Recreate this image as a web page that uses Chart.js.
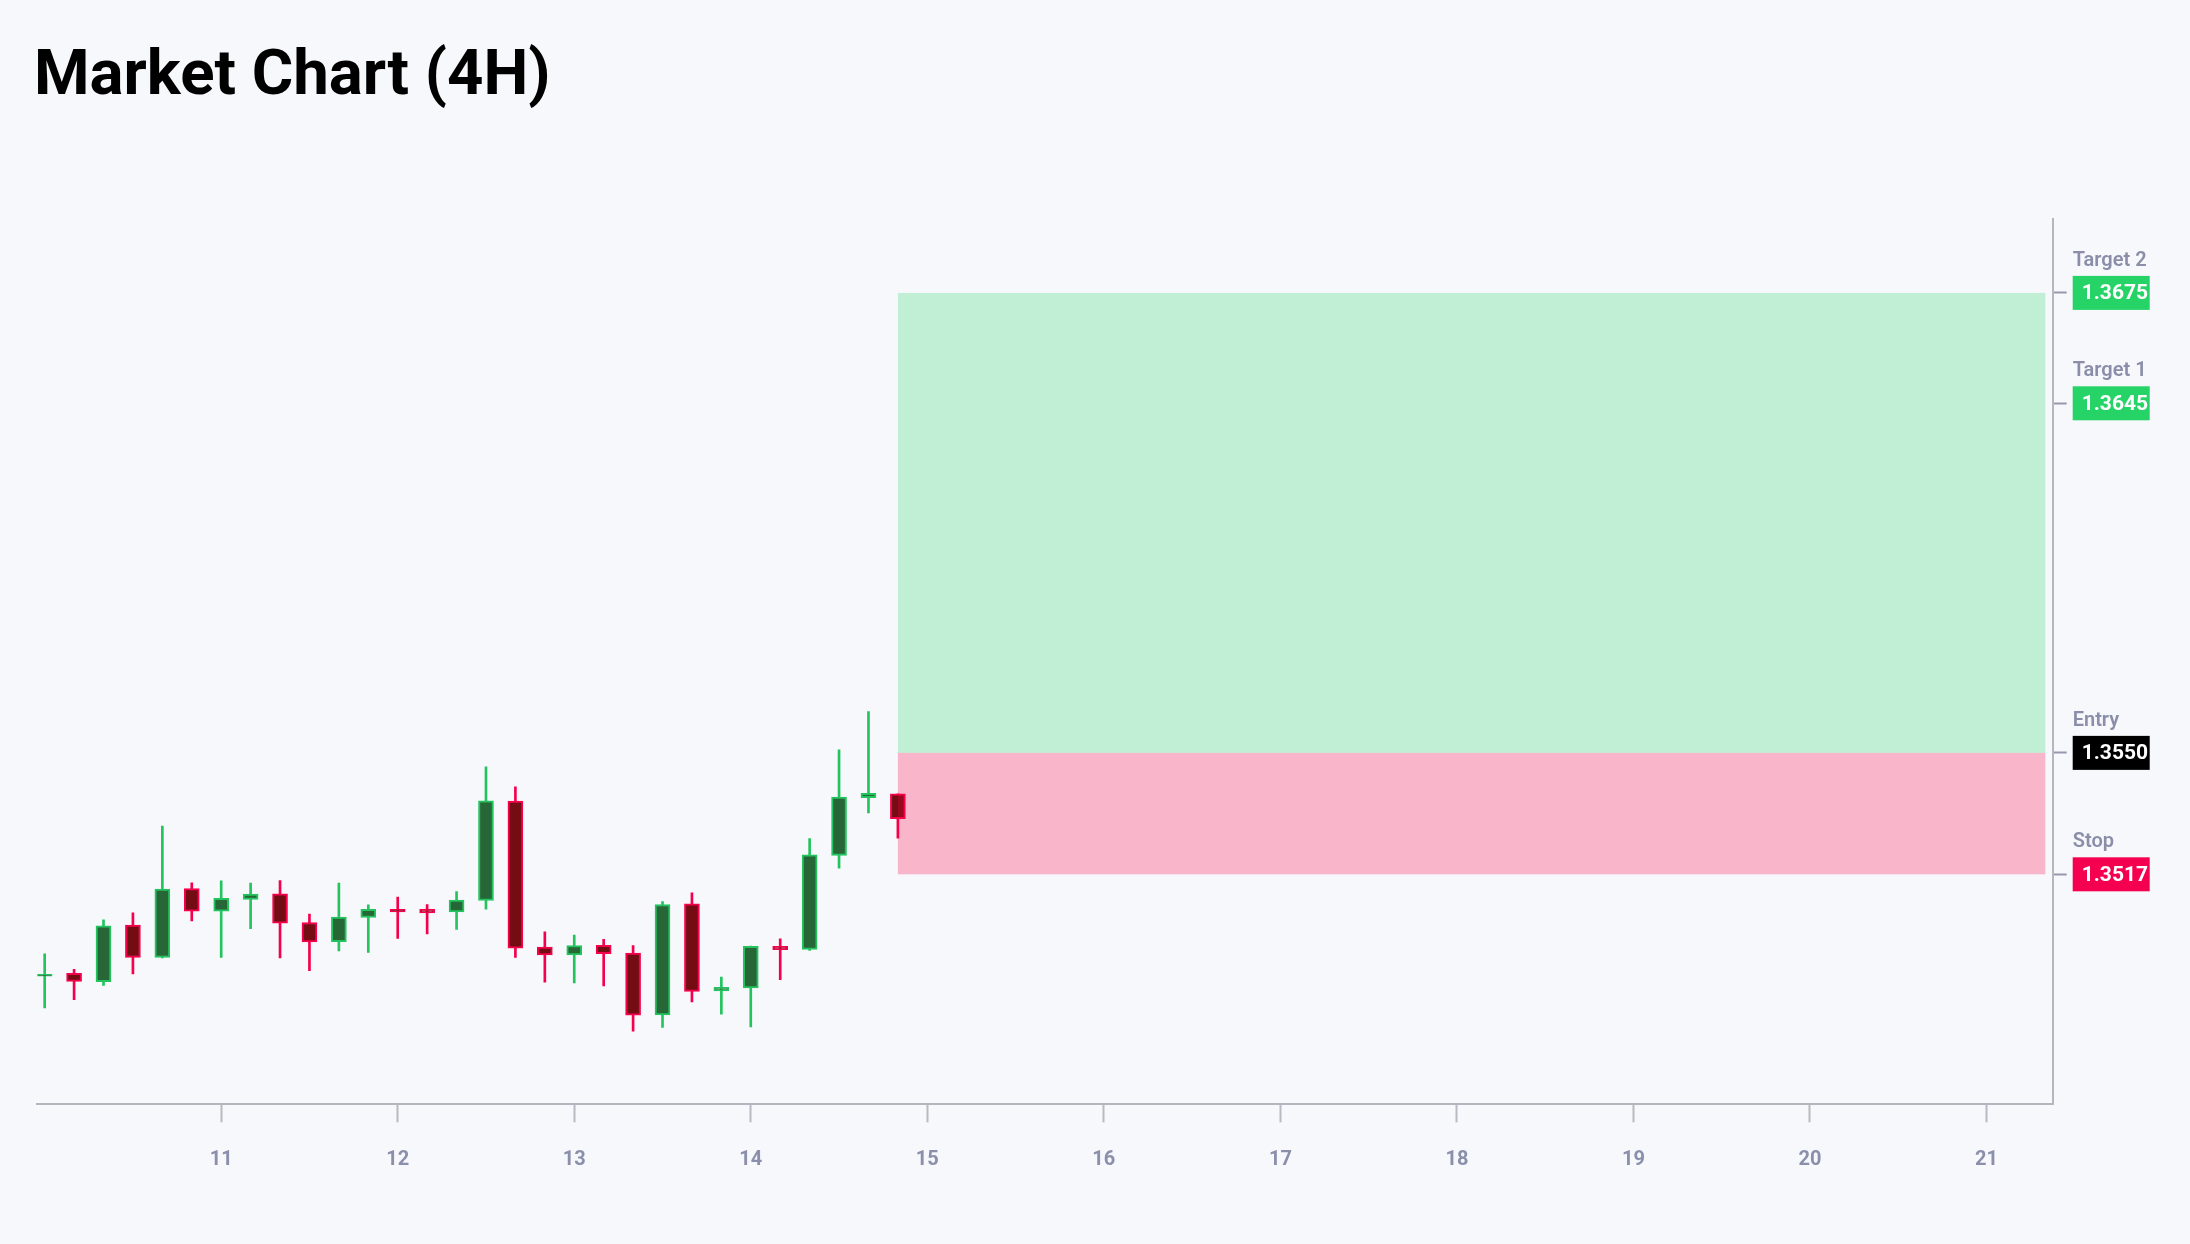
<!DOCTYPE html>
<html>
<head>
<meta charset="utf-8">
<script src="https://cdn.jsdelivr.net/npm/chart.js@4.4.1/dist/chart.umd.min.js"></script>
<style>
  html, body { margin:0; padding:0; background:#f7f8fc; overflow:hidden; }
  #wrap { position:relative; width:2190px; height:1244px; }
  h1 {
    position:absolute; left:34px; top:41px; margin:0;
    font-family:Roboto, sans-serif; font-weight:700; font-size:63.5px; line-height:63px;
    color:#000;
  }
  canvas { position:absolute; left:0; top:0; }
</style>
</head>
<body>
<div id="wrap">
  <h1>Market Chart (4H)</h1>
  <canvas id="chart"></canvas>
</div>
<script>
// candle times: day of month + 4H slot
const days = [10, 11, 12, 13, 14];
const hours = [0, 4, 8, 12, 16, 20];

const open  = [1.34893,1.34901,1.34878,1.35032,1.34944,1.35131,1.35070,1.35102,1.35117,1.35039,
               1.34987,1.35053,1.35075,1.35075,1.35068,1.35099,1.35369,1.34972,1.34951,1.34977,
               1.34956,1.34788,1.35090,1.34853,1.34861,1.34974,1.34966,1.35221,1.35378,1.35389];
const high  = [1.34954,1.34912,1.35046,1.35065,1.35301,1.35147,1.35152,1.35146,1.35153,1.35062,
               1.35146,1.35087,1.35108,1.35088,1.35123,1.35462,1.35408,1.35014,1.35005,1.34993,
               1.34976,1.35096,1.35120,1.34891,1.34975,1.34995,1.35267,1.35508,1.35612,1.35389];
const low   = [1.34807,1.34829,1.34868,1.34899,1.34943,1.35043,1.34944,1.35022,1.34943,1.34908,
               1.34962,1.34958,1.34996,1.35008,1.35020,1.35075,1.34944,1.34877,1.34875,1.34867,
               1.34744,1.34754,1.34823,1.34790,1.34755,1.34884,1.34963,1.35187,1.35337,1.35268];
const close = [1.34898,1.34879,1.35030,1.34944,1.35130,1.35070,1.35105,1.35116,1.35037,1.34986,
               1.35054,1.35075,1.35068,1.35065,1.35100,1.35370,1.34969,1.34951,1.34976,1.34954,
               1.34787,1.35088,1.34852,1.34863,1.34974,1.34965,1.35223,1.35380,1.35390,1.35321];

// trade levels on the right axis
const levelNames  = ["Target 2", "Target 1", "Entry", "Stop"];
const levelValues = [1.3675, 1.3645, 1.3550, 1.3517];
const levelColors = ["#25d366", "#25d366", "#000000", "#f50050"];

const dayTicks = [11, 12, 13, 14, 15, 16, 17, 18, 19, 20, 21];
const zoneEnd = 21 + 8 / 24;

const times = [];
days.forEach(d => hours.forEach(h => times.push(d + h / 24)));

const UP = "#23c45e", UP_FILL = "#266637";
const DOWN = "#f5004c", DOWN_FILL = "#740c13";

const isUp = i => close[i] >= open[i];

const bodies = times.map((t, i) => ({ x: t, y: [open[i], close[i]] }));
const wicks  = times.map((t, i) => ({ x: t, y: [low[i], high[i]] }));

// risk / reward boxes, drawn over the candles
const zonesPlugin = {
  id: "zones",
  afterDatasetsDraw(chart) {
    const { ctx, chartArea, scales: { x, y } } = chart;
    const entry = levelValues[2], stop = levelValues[3], target = levelValues[0];
    const x0 = x.getPixelForValue(times[times.length - 1]);
    const x1 = x.getPixelForValue(zoneEnd);
    ctx.save();
    ctx.beginPath();
    ctx.rect(chartArea.left, chartArea.top, chartArea.width, chartArea.height);
    ctx.clip();
    ctx.fillStyle = "rgba(37,211,102,0.26)";
    ctx.fillRect(x0, y.getPixelForValue(target), x1 - x0, y.getPixelForValue(entry) - y.getPixelForValue(target));
    ctx.fillStyle = "rgba(255,0,64,0.27)";
    ctx.fillRect(x0, y.getPixelForValue(entry), x1 - x0, y.getPixelForValue(stop) - y.getPixelForValue(entry));
    ctx.restore();
  }
};

// name + price tag next to each right-axis tick
const levelLabels = {
  id: "levelLabels",
  afterDraw(chart) {
    const { ctx, scales: { y } } = chart;
    const left = y.left + 20;
    ctx.save();
    levelValues.forEach((v, i) => {
      const py = y.getPixelForValue(v);
      ctx.font = "600 20px Roboto";
      ctx.fillStyle = "#8a8ea8";
      ctx.textAlign = "left";
      ctx.textBaseline = "alphabetic";
      ctx.fillText(levelNames[i], left, py - 27);
      ctx.fillStyle = levelColors[i];
      ctx.fillRect(left, py - 17, 77, 34);
      ctx.font = "bold 21px Roboto";
      ctx.fillStyle = "#ffffff";
      ctx.textBaseline = "middle";
      ctx.fillText(v.toFixed(4), left + 9, py + 1);
    });
    ctx.restore();
  }
};

Chart.defaults.font.family = "Roboto";

new Chart(document.getElementById("chart"), {
  type: "bar",
  data: {
    datasets: [
      {
        label: "body",
        data: bodies,
        grouped: false,
        barThickness: 15,
        borderWidth: 2,
        borderSkipped: false,
        backgroundColor: ctx => isUp(ctx.dataIndex) ? UP_FILL : DOWN_FILL,
        borderColor: ctx => isUp(ctx.dataIndex) ? UP : DOWN
      },
      {
        label: "wick",
        data: wicks,
        grouped: false,
        barThickness: 2,
        borderWidth: 0,
        backgroundColor: ctx => isUp(ctx.dataIndex) ? UP : DOWN
      }
    ]
  },
  options: {
    responsive: true,
    maintainAspectRatio: false,
    animation: false,
    layout: { padding: { left: 37.3, top: 219.3, right: 0, bottom: 0 } },
    plugins: { legend: { display: false }, tooltip: { enabled: false } },
    scales: {
      x: {
        type: "linear",
        min: 10 - 1 / 24,
        max: 21 + 9 / 24,
        offset: false,
        afterBuildTicks: s => { s.ticks = dayTicks.map(v => ({ value: v })); },
        afterFit: s => { s.height = 1244 - 1104.3; },
        grid: { drawOnChartArea: false, offset: false, tickLength: 18, tickColor: "#b8b9c2", tickWidth: 2 },
        border: { color: "#b4b5be", width: 2 },
        ticks: {
          color: "#8a8fab",
          padding: 26,
          maxRotation: 0,
          font: { size: 20, weight: "bold" },
          callback: v => String(v)
        }
      },
      y: {
        position: "right",
        min: 1.34545,
        max: 1.36950,
        beginAtZero: false,
        afterBuildTicks: s => { s.ticks = levelValues.map(v => ({ value: v })); },
        afterFit: s => { s.width = 2190 - 2052.7; },
        grid: { drawOnChartArea: false, tickLength: 14, tickColor: "#9699ad", tickWidth: 2 },
        border: { color: "#b5b6c0", width: 2 },
        ticks: { display: false }
      }
    }
  },
  plugins: [zonesPlugin, levelLabels]
});
</script>
</body>
</html>
